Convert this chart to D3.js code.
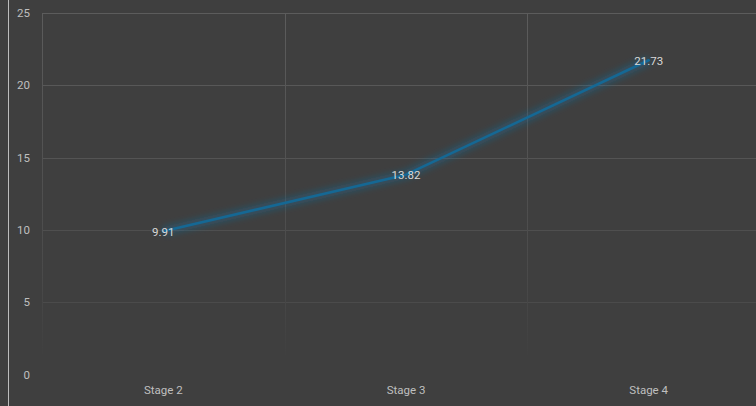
<!DOCTYPE html>
<html>
<head>
<meta charset="utf-8">
<script src="https://cdn.jsdelivr.net/npm/d3@7"></script>
<style>
  html, body { margin: 0; padding: 0; background: #3f3f3f; }
  svg { display: block; }
</style>
</head>
<body>
<svg id="chart" width="756" height="406"></svg>
<script>
const categories = ['Stage 2', 'Stage 3', 'Stage 4'];
const values     = [9.91, 13.82, 21.73];
const yTicks     = [0, 5, 10, 15, 20, 25];

const width  = 756;
const height = 406;

const svg = d3.select('#chart');

svg.append('rect')
  .attr('width', width)
  .attr('height', height)
  .attr('fill', '#3f3f3f')
;

// thin light border on the left edge
svg.append('line')
  .attr('x1', 8.5).attr('x2', 8.5)
  .attr('y1', 0).attr('y2', height)
  .attr('stroke', '#bdbdbd')
  .attr('stroke-width', 1)
;

const x = d3.scaleBand()
  .domain(categories)
  .range([42, 770])
;

const y = d3.scaleLinear()
  .domain([0, 25])
  .range([374.5, 13])
;

const defs = svg.append('defs');

// gridlines fade out towards the bottom
const fade = defs.append('linearGradient')
  .attr('id', 'fade')
  .attr('gradientUnits', 'userSpaceOnUse')
  .attr('x1', 0).attr('y1', 13)
  .attr('x2', 0).attr('y2', 360)
;
fade.append('stop').attr('offset', '0%').attr('stop-color', '#5c5c5c');
fade.append('stop').attr('offset', '75%').attr('stop-color', '#4a4a4a');
fade.append('stop').attr('offset', '100%').attr('stop-color', '#3f3f3f');

const glow = defs.append('filter')
  .attr('id', 'glow')
  .attr('x', '-20%').attr('y', '-20%')
  .attr('width', '140%').attr('height', '140%')
;
glow.append('feGaussianBlur').attr('stdDeviation', 3.5);

const grid = svg.append('g');

grid.selectAll('line.h')
  .data(yTicks.filter(d => d > 0))
  .join('line')
  .attr('class', 'h')
  .attr('x1', 42)
  .attr('x2', width)
  .attr('y1', d => Math.round(y(d)) + 0.5)
  .attr('y2', d => Math.round(y(d)) + 0.5)
  .attr('stroke', d => d3.interpolateRgb('#5c5c5c', '#474747')(1 - d / 25))
  .attr('stroke-width', 1)
;

grid.selectAll('line.v')
  .data(categories.map(c => x(c)).concat([770]))
  .join('line')
  .attr('class', 'v')
  .attr('x1', d => Math.round(d) + 0.5)
  .attr('x2', d => Math.round(d) + 0.5)
  .attr('y1', y(25))
  .attr('y2', 355)
  .attr('stroke', 'url(#fade)')
  .attr('stroke-width', 1)
;

// y axis labels
const yAxis = d3.axisLeft(y).tickValues(yTicks).tickSize(0).tickPadding(0);
svg.append('g')
  .attr('transform', 'translate(30,0)')
  .call(yAxis)
  .call(g => g.select('.domain').remove())
  .call(g => g.selectAll('text')
    .attr('fill', '#bfbfbf')
    .attr('font-family', 'Roboto, sans-serif')
    .attr('font-size', 11.5))
;

// x axis labels
const xAxis = d3.axisBottom(x).tickSize(0).tickPadding(0);
svg.append('g')
  .attr('transform', 'translate(0,386)')
  .call(xAxis)
  .call(g => g.select('.domain').remove())
  .call(g => g.selectAll('text')
    .attr('fill', '#bfbfbf')
    .attr('font-family', 'Roboto, sans-serif')
    .attr('font-size', 11.5))
;

const points = categories.map((c, i) => ({ c, v: values[i] }));

const line = d3.line()
  .x(d => x(d.c) + x.bandwidth() / 2)
  .y(d => y(d.v))
;

svg.append('path')
  .datum(points)
  .attr('d', line)
  .attr('fill', 'none')
  .attr('stroke', '#1a6fa0')
  .attr('stroke-width', 8)
  .attr('stroke-opacity', 0.45)
  .attr('stroke-linejoin', 'round')
  .attr('filter', 'url(#glow)')
;

svg.append('path')
  .datum(points)
  .attr('d', line)
  .attr('fill', 'none')
  .attr('stroke', '#156894')
  .attr('stroke-width', 2.6)
  .attr('stroke-linecap', 'round')
  .attr('stroke-linejoin', 'round')
;

svg.append('g')
  .selectAll('text')
  .data(points)
  .join('text')
  .text(d => d.v.toFixed(2))
  .attr('x', d => x(d.c) + x.bandwidth() / 2)
  .attr('y', d => y(d.v) + 1.5)
  .attr('text-anchor', 'middle')
  .attr('dominant-baseline', 'middle')
  .attr('fill', '#d9d9d9')
  .attr('font-family', 'Roboto, sans-serif')
  .attr('font-size', 11.5)
;
</script>
</body>
</html>
